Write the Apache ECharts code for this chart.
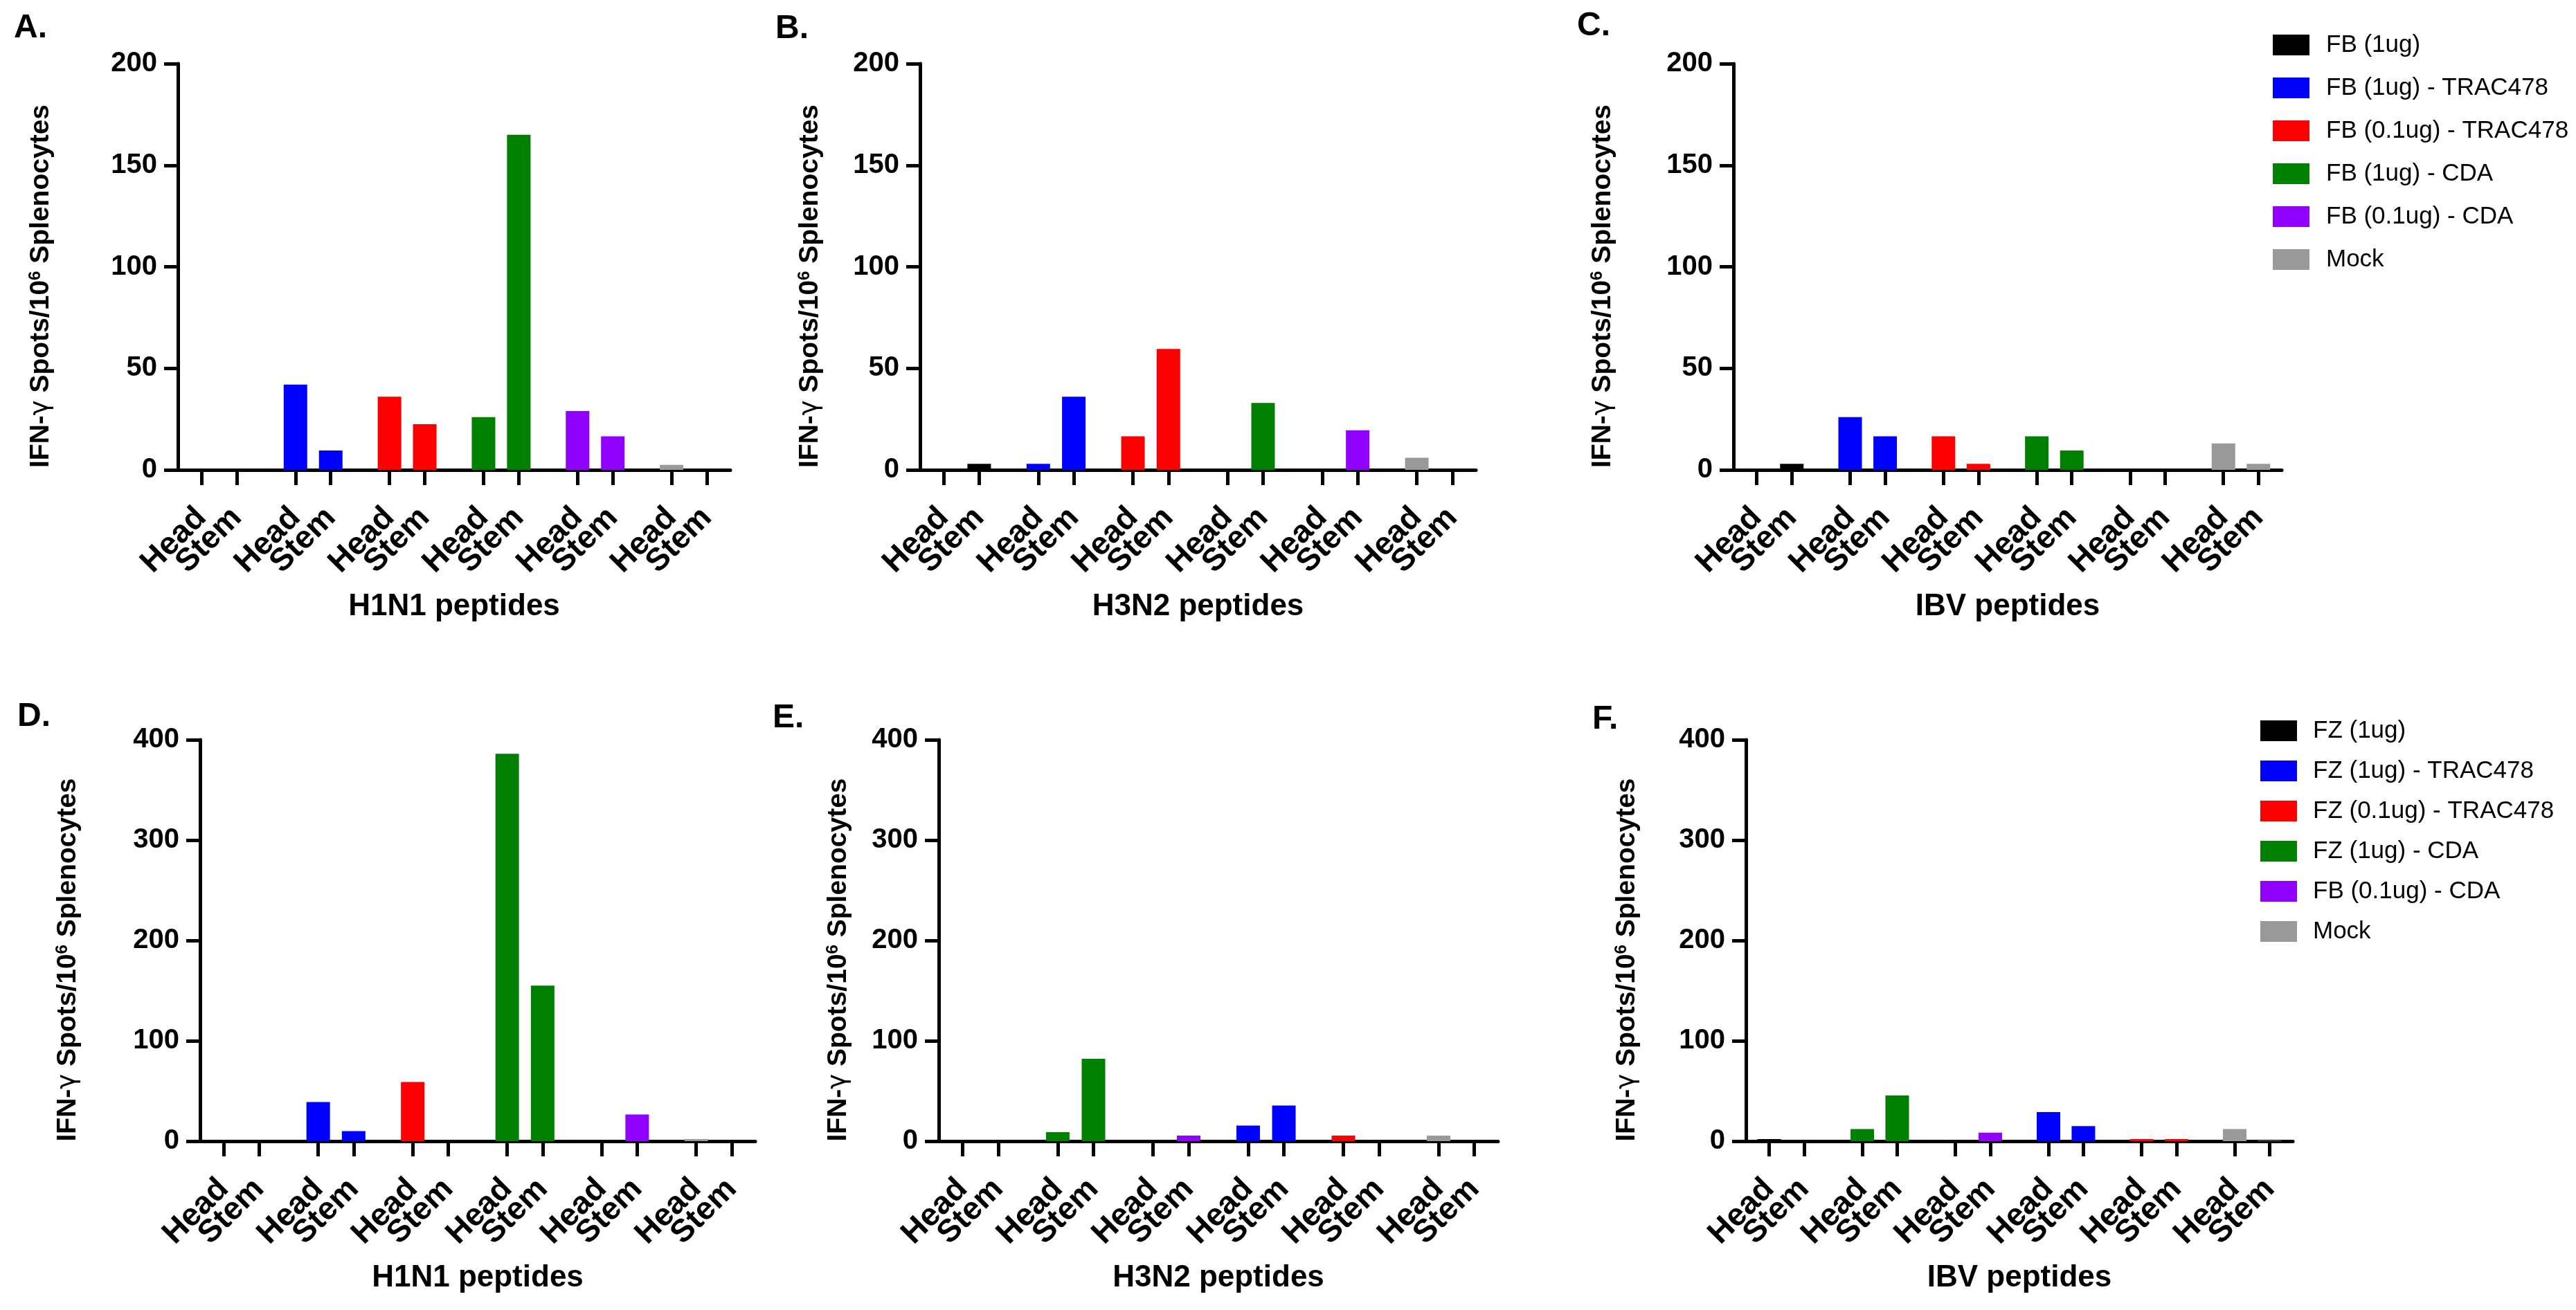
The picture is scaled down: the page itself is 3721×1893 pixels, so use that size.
<!DOCTYPE html>
<html>
<head>
<meta charset="utf-8">
<style>
html,body{margin:0;padding:0;background:#ffffff;}
#chart{width:3721px;height:1893px;}
</style>
<script src="https://cdn.jsdelivr.net/npm/echarts@6/dist/echarts.min.js"></script>
</head>
<body>
<div id="chart"></div>
<script>
// ---------- data ----------
const rowOneNames = ['FB (1ug)', 'FB (1ug) - TRAC478', 'FB (0.1ug) - TRAC478', 'FB (1ug) - CDA', 'FB (0.1ug) - CDA', 'Mock'];
const rowTwoNames = ['FZ (1ug)', 'FZ (1ug) - TRAC478', 'FZ (0.1ug) - TRAC478', 'FZ (1ug) - CDA', 'FB (0.1ug) - CDA', 'Mock'];
const tickLabels = ['Head', 'Stem'];
const panelLetters = ['A.', 'B.', 'C.', 'D.', 'E.', 'F.'];
const peptideTitles = ['H1N1 peptides', 'H3N2 peptides', 'IBV peptides', 'H1N1 peptides', 'H3N2 peptides', 'IBV peptides'];
const yAxisName = 'IFN-{g|γ} Spots/10{s|6} Splenocytes';
const rowOneMax = 200, rowOneStep = 50;
const rowTwoMax = 400, rowTwoStep = 100;

// group order (index into legend names) for each panel
const orderA = [0, 1, 2, 3, 4, 5];
const orderB = [0, 1, 2, 3, 4, 5];
const orderC = [0, 1, 2, 3, 4, 5];
const orderD = [0, 1, 2, 3, 4, 5];
const orderE = [0, 3, 4, 1, 2, 5];
const orderF = [0, 3, 4, 1, 2, 5];

// values per group: Head and Stem
const h1n1FBHead = [0, 42, 36, 26, 29, 2.5];
const h1n1FBStem = [0, 9.5, 22.5, 165, 16.5, 0];
const h3n2FBHead = [0, 3, 16.5, 0, 0, 6];
const h3n2FBStem = [3, 36, 59.5, 33, 19.5, 0];
const ibvFBHead = [0, 26, 16.5, 16.5, 0, 13];
const ibvFBStem = [3, 16.5, 3, 9.5, 0, 3];
const h1n1FZHead = [0, 39, 59, 386, 0, 2];
const h1n1FZStem = [0, 10, 0, 155, 26.5, 0];
const h3n2FZHead = [0, 9, 0, 15.5, 5.5, 5.5];
const h3n2FZStem = [0, 82, 5.5, 35.5, 0, 0];
const ibvFZHead = [2, 12, 0, 29, 2, 12];
const ibvFZStem = [0, 45.5, 8.5, 15, 2, 0.5];

// ---------- styles / layout ----------
const groupColors = ['#000000', '#0000ff', '#ff0000', '#008000', '#8f00ff', '#999999'];
const FONT = '"Liberation Sans", Arial, Helvetica, sans-serif';
const layouts = [
  {left: 257, top: 92, width: 798, height: 587, nameGap: 178, letter: [20, 17]},
  {left: 1329, top: 92, width: 803, height: 587, nameGap: 139, letter: [1120, 18]},
  {left: 2504, top: 92, width: 792, height: 587, nameGap: 169, letter: [2278, 14]},
  {left: 289, top: 1069, width: 802, height: 580, nameGap: 171, letter: [25, 1012]},
  {left: 1356, top: 1069, width: 808, height: 580, nameGap: 125, letter: [1116, 1014]},
  {left: 2522, top: 1069, width: 790, height: 580, nameGap: 152, letter: [2300, 1016]}
];

const panels = [
  {names: rowOneNames, order: orderA, head: h1n1FBHead, stem: h1n1FBStem, max: rowOneMax, step: rowOneStep},
  {names: rowOneNames, order: orderB, head: h3n2FBHead, stem: h3n2FBStem, max: rowOneMax, step: rowOneStep},
  {names: rowOneNames, order: orderC, head: ibvFBHead, stem: ibvFBStem, max: rowOneMax, step: rowOneStep},
  {names: rowTwoNames, order: orderD, head: h1n1FZHead, stem: h1n1FZStem, max: rowTwoMax, step: rowTwoStep},
  {names: rowTwoNames, order: orderE, head: h3n2FZHead, stem: h3n2FZStem, max: rowTwoMax, step: rowTwoStep},
  {names: rowTwoNames, order: orderF, head: ibvFZHead, stem: ibvFZStem, max: rowTwoMax, step: rowTwoStep}
];

// slot layout of the category axis: 2 blank, then groups of 8 slots (Head at 0, Stem at 3), 2 blank at end
const PAD = 2, GROUP = 8, STEM_OFF = 3, NGROUPS = 6;
const NSLOTS = PAD + (NGROUPS - 1) * GROUP + STEM_OFF + 1 + PAD;
function slotCategories() {
  const cats = [];
  for (let i = 0; i < NSLOTS; i++) cats.push('');
  for (let g = 0; g < NGROUPS; g++) {
    cats[PAD + g * GROUP] = tickLabels[0];
    cats[PAD + g * GROUP + STEM_OFF] = tickLabels[1];
  }
  return cats;
}
const categories = slotCategories();
const isTickSlot = (idx) => categories[idx] !== '';

const grids = [], xAxes = [], yAxes = [], series = [], titles = [];
panels.forEach((p, i) => {
  const L = layouts[i];
  grids.push({left: L.left, top: L.top, width: L.width, height: L.height, containLabel: false});
  xAxes.push({
    type: 'category', gridIndex: i, data: categories, boundaryGap: false,
    name: peptideTitles[i], nameLocation: 'middle', nameGap: 176,
    nameTextStyle: {fontFamily: FONT, fontWeight: 'bold', fontSize: 44, color: '#000'},
    axisLine: {show: true, lineStyle: {color: '#000', width: 5}},
    axisTick: {show: true, length: 22, lineStyle: {color: '#000', width: 5},
      interval: (idx) => isTickSlot(idx)},
    axisLabel: {show: true, rotate: 45, margin: 62, fontFamily: FONT, fontWeight: 'bold', fontSize: 46,
      color: '#000', interval: 0},
    splitLine: {show: false}
  });
  yAxes.push({
    type: 'value', gridIndex: i, min: 0, max: p.max, interval: p.step,
    name: yAxisName, nameLocation: 'middle', nameGap: L.nameGap, nameRotate: 90,
    nameTextStyle: {fontFamily: FONT, fontWeight: 'bold', fontSize: 39, color: '#000', padding: [0, 56, 0, 0],
      rich: {
        g: {fontFamily: '"DejaVu Sans", sans-serif', fontWeight: 'normal', fontSize: 37, color: '#000'},
        s: {fontFamily: FONT, fontWeight: 'bold', fontSize: 24, color: '#000', verticalAlign: 'top', lineHeight: 40}
      }},
    axisLine: {show: true, lineStyle: {color: '#000', width: 5}},
    axisTick: {show: true, length: 20, lineStyle: {color: '#000', width: 5}},
    axisLabel: {margin: 30, fontFamily: FONT, fontWeight: 'bold', fontSize: 40, color: '#000'},
    splitLine: {show: false}
  });
  for (let g = 0; g < NGROUPS; g++) {
    const k = p.order[g];
    const data = categories.map(() => '-');
    data[PAD + g * GROUP] = p.head[g];
    data[PAD + g * GROUP + STEM_OFF] = p.stem[g];
    series.push({
      type: 'bar', name: p.names[k], xAxisIndex: i, yAxisIndex: i,
      data: data, barWidth: 34, barGap: '-100%',
      itemStyle: {color: groupColors[k]},
      animation: false
    });
  }
  titles.push({
    text: panelLetters[i], left: L.letter[0], top: L.letter[1], padding: 0,
    textStyle: {fontFamily: FONT, fontWeight: 'bold', fontSize: 48, color: '#000'}
  });
});

const legendText = {fontFamily: FONT, fontSize: 35, color: '#000', lineHeight: 40};
const option = {
  backgroundColor: '#ffffff',
  animation: false,
  title: titles,
  legend: [
    {data: rowOneNames, orient: 'vertical', left: 3283, top: 45, padding: 0,
     itemWidth: 53, itemHeight: 30, itemGap: 22, icon: 'rect', selectedMode: false,
     textStyle: Object.assign({padding: [0, 0, 0, 19]}, legendText)},
    {data: rowTwoNames, orient: 'vertical', left: 3265, top: 1036, padding: 0,
     itemWidth: 53, itemHeight: 30, itemGap: 18, icon: 'rect', selectedMode: false,
     textStyle: Object.assign({padding: [0, 0, 0, 18]}, legendText)}
  ],
  grid: grids,
  xAxis: xAxes,
  yAxis: yAxes,
  series: series
};

const chart = echarts.init(document.getElementById('chart'), null, {renderer: 'canvas'});
chart.setOption(option);
</script>
</body>
</html>
